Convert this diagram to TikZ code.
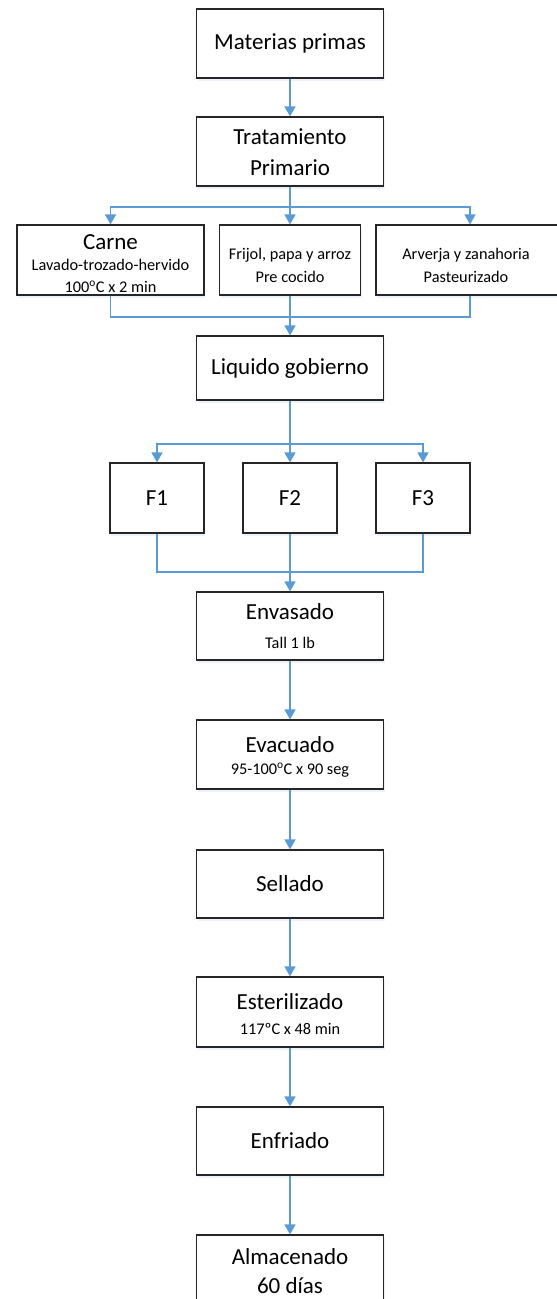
\documentclass[tikz,border=0pt]{standalone}
\usepackage{fontspec}
\setmainfont{Carlito}
\usetikzlibrary{arrows.meta,shadows}
\definecolor{conn}{HTML}{5B9BD5}
\definecolor{shadowc}{HTML}{EDF2FA}
\newcommand{\mainf}{\fontsize{23}{28}\selectfont}
\newcommand{\subf}{\fontsize{16.3}{19}\selectfont}
\tikzset{
  box/.style={draw=black!85, line width=1.2pt, fill=white, rectangle, inner sep=0pt,
    drop shadow={shadow xshift=1pt, shadow yshift=-2.5pt, fill=shadowc, opacity=1}},
  mtext/.style={font=\mainf, inner sep=0pt, align=center},
  stext/.style={font=\subf, inner sep=0pt, align=center},
  cline/.style={draw=conn, line width=1.6pt},
  carr/.style={cline, -{Triangle[width=11pt,length=10pt]}}
}
\begin{document}
\begin{tikzpicture}[x=1pt,y=-1pt]
\useasboundingbox (0,0) rectangle (557,1299);
\clip (0,0) rectangle (557,1299);
% boxes
\node[box, minimum width=187pt, minimum height=69pt] (mat) at (290,43.5) {};
\node[box, minimum width=187pt, minimum height=69pt] (trat) at (290,151.5) {};
\node[box, minimum width=187pt, minimum height=70pt] (carne) at (110.5,260) {};
\node[box, minimum width=141pt, minimum height=70pt] (frijol) at (290,260) {};
\node[box, minimum width=188pt, minimum height=70pt] (arverja) at (470,260) {};
\node[box, minimum width=187pt, minimum height=64pt] (liq) at (290,368) {};
\node[box, minimum width=94pt, minimum height=70pt] (f1) at (157,498) {};
\node[box, minimum width=94pt, minimum height=70pt] (f2) at (290,498) {};
\node[box, minimum width=94pt, minimum height=70pt] (f3) at (423,498) {};
\node[box, minimum width=187pt, minimum height=68pt] (env) at (290,626) {};
\node[box, minimum width=187pt, minimum height=69pt] (evac) at (290,754.5) {};
\node[box, minimum width=187pt, minimum height=68pt] (sell) at (290,884) {};
\node[box, minimum width=187pt, minimum height=70pt] (est) at (290,1012) {};
\node[box, minimum width=187pt, minimum height=68pt] (enf) at (290,1141) {};
\node[box, minimum width=187pt, minimum height=70pt] (alm) at (290,1270) {};
% texts
\node[mtext] (tmat) at (290,43.5) {Materias primas};
\node[mtext] (ttrat1) at (290,137) {Tratamiento};
\node[mtext] (ttrat2) at (290,168) {Primario};
\node[mtext] (tcarne) at (110.5,242) {Carne};
\node[stext] (tcarne2) at (110.5,265) {Lavado-trozado-hervido};
\node[stext] (tcarne3) at (110.5,287) {100\textsuperscript{o}C x 2 min};
\node[stext] (tfri1) at (290,255) {Frijol, papa y arroz};
\node[stext] (tfri2) at (290,277) {Pre cocido};
\node[stext] (tarv1) at (466,255) {Arverja y zanahoria};
\node[stext] (tarv2) at (466,277) {Pasteurizado};
\node[mtext] (tliq) at (290,368) {Liquido gobierno};
\node[mtext] (tf1) at (157,498) {F1};
\node[mtext] (tf2) at (290,498) {F2};
\node[mtext] (tf3) at (423,498) {F3};
\node[mtext] (tenv1) at (290,612) {Envasado};
\node[stext] (tenv2) at (290,643) {Tall 1 lb};
\node[mtext] (tevac1) at (290,745) {Evacuado};
\node[stext] (tevac2) at (290,770) {95-100\textsuperscript{o}C x 90 seg};
\node[mtext] (tsell) at (290,884) {Sellado};
\node[mtext] (test1) at (290,1002) {Esterilizado};
\node[stext] (test2) at (290,1029) {117ºC x 48 min};
\node[mtext] (tenf) at (290,1141) {Enfriado};
\node[mtext] (talm1) at (290,1257) {Almacenado};
\node[mtext] (talm2) at (290,1286) {60 días};
% connectors
\coordinate (b1) at (290,207);
\coordinate (m1) at (290,317);
\coordinate (b2) at (290,444);
\coordinate (m2) at (290,572);
\draw[carr] (mat.south) -- (trat.north);
\draw[cline] (trat.south) -- (b1);
\draw[carr] (b1) -- (frijol.north);
\draw[carr] (b1) -| (carne.north);
\draw[carr] (b1) -| (arverja.north);
\draw[cline] (carne.south) |- (m1);
\draw[cline] (arverja.south) |- (m1);
\draw[cline] (frijol.south) -- (m1);
\draw[carr] (m1) -- (liq.north);
\draw[cline] (liq.south) -- (b2);
\draw[carr] (b2) -- (f2.north);
\draw[carr] (b2) -| (f1.north);
\draw[carr] (b2) -| (f3.north);
\draw[cline] (f1.south) |- (m2);
\draw[cline] (f3.south) |- (m2);
\draw[cline] (f2.south) -- (m2);
\draw[carr] (m2) -- (env.north);
\draw[carr] (env.south) -- (evac.north);
\draw[carr] (evac.south) -- (sell.north);
\draw[carr] (sell.south) -- (est.north);
\draw[carr] (est.south) -- (enf.north);
\draw[carr] (enf.south) -- (alm.north);
\end{tikzpicture}
\end{document}
